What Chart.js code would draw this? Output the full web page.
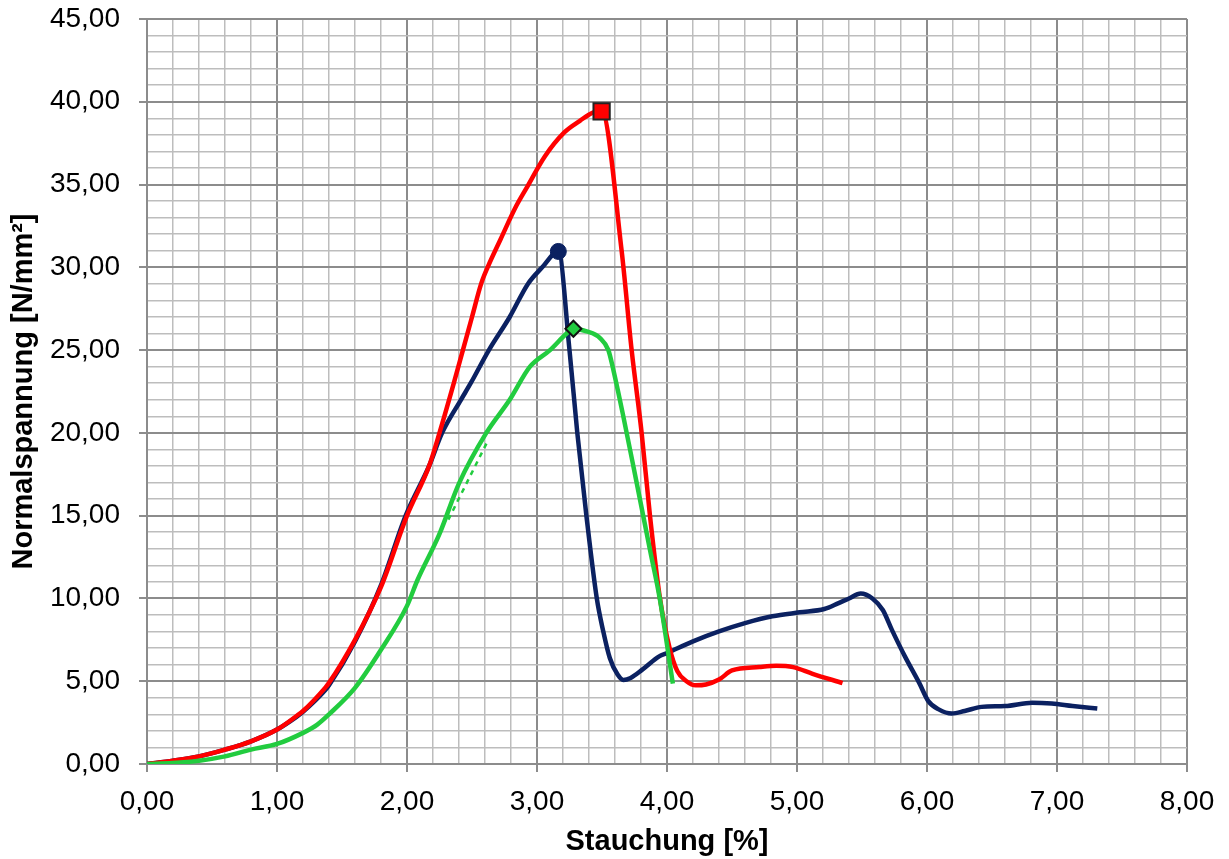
<!DOCTYPE html>
<html>
<head>
<meta charset="utf-8">
<script src="https://cdn.jsdelivr.net/npm/chart.js@4.4.1/dist/chart.umd.min.js"></script>
<style>
  html, body { margin: 0; padding: 0; background: #ffffff; }
  #wrap { width: 1229px; height: 859px; }
</style>
</head>
<body>
<div id="wrap"><canvas id="c" width="1229" height="859"></canvas></div>
<script>
// ---- Data ----
const xTitle = 'Stauchung [%]';
const yTitle = 'Normalspannung [N/mm²]';

const redX = [0, 0.2, 0.4, 0.6, 0.8, 1.0, 1.15, 1.2, 1.37, 1.4, 1.6, 1.8, 2.0, 2.17, 2.25, 2.36, 2.43, 2.5, 2.57, 2.62, 2.72, 2.84, 2.92, 3.06, 3.21, 3.33, 3.43, 3.497, 3.651, 3.728, 3.805, 3.869, 3.946, 4.02, 4.08, 4.15, 4.22, 4.3, 4.4, 4.5, 4.71, 4.84, 4.97, 5.12, 5.35];
const redY = [0, 0.2, 0.46, 0.87, 1.37, 2.08, 2.9, 3.2, 4.6, 4.9, 7.5, 10.7, 15.0, 18.0, 20.0, 23.0, 25.0, 27.0, 29.0, 30.0, 31.7, 33.7, 34.8, 36.7, 38.15, 38.85, 39.35, 39.42, 31.0, 25.0, 20.0, 15.0, 10.0, 7.0, 5.6, 5.0, 4.75, 4.8, 5.1, 5.65, 5.86, 5.93, 5.85, 5.45, 4.89];

const blueX = [0, 0.2, 0.4, 0.6, 0.8, 1.0, 1.15, 1.2, 1.37, 1.4, 1.6, 1.8, 1.99, 2.17, 2.27, 2.415, 2.49, 2.63, 2.79, 2.93, 3.04, 3.164, 3.25, 3.31, 3.38, 3.46, 3.51, 3.56, 3.62, 3.664, 3.72, 3.81, 3.94, 4.0, 4.2, 4.4, 4.6, 4.81, 5.02, 5.21, 5.32, 5.4, 5.49, 5.58, 5.66, 5.73, 5.83, 5.94, 6.01, 6.09, 6.19, 6.29, 6.42, 6.6, 6.81, 6.96, 7.12, 7.31];
const blueY = [0, 0.2, 0.46, 0.87, 1.37, 2.08, 2.85, 3.15, 4.45, 4.75, 7.4, 10.8, 15.0, 18.0, 20.0, 22.0, 23.0, 25.0, 27.0, 29.0, 30.0, 30.96, 25.0, 20.0, 15.0, 10.0, 8.0, 6.4, 5.4, 5.08, 5.2, 5.7, 6.5, 6.7, 7.41, 8.01, 8.51, 8.92, 9.16, 9.36, 9.72, 10.0, 10.3, 10.0, 9.3, 8.1, 6.5, 4.9, 3.8, 3.3, 3.05, 3.2, 3.45, 3.5, 3.7, 3.65, 3.5, 3.35];

const greenX = [0, 0.2, 0.4, 0.6, 0.8, 1.0, 1.2, 1.31, 1.4, 1.6, 1.8, 2.0, 2.08, 2.25, 2.4, 2.61, 2.79, 2.946, 3.1, 3.228, 3.28, 3.382, 3.485, 3.549, 3.587, 3.664, 3.767, 3.869, 3.946, 4.045];
const greenY = [0, 0.06, 0.2, 0.46, 0.87, 1.21, 1.88, 2.38, 3.0, 4.6, 6.9, 9.55, 11.1, 13.9, 16.95, 20.0, 22.0, 24.0, 25.0, 26.0, 26.29, 26.13, 25.73, 25.0, 23.82, 21.0, 16.97, 12.94, 9.92, 4.85];

const trendX = [2.318, 2.626];
const trendY = [14.76, 19.59];

const xMin = 0, xMax = 8, xStep = 0.2, xMajor = 1;
const yMin = 0, yMax = 45, yStep = 1, yMajor = 5;

// ---- Helpers ----
const pts = (xs, ys) => xs.map((x, i) => ({ x: x, y: ys[i] }));
const peakIndex = ys => ys.indexOf(Math.max(...ys));
const isMult = (v, m) => Math.abs(v / m - Math.round(v / m)) < 1e-6;
const fmt = v => v.toFixed(2).replace('.', ',');
const FONT = "'Liberation Sans', Arial, sans-serif";
const MAJOR = '#8c8c8c', MINOR = '#bdbdbd';

function peakRadius(ys, r) {
  const pi = peakIndex(ys);
  return ctx => (ctx.dataIndex === pi ? r : 0);
}

const RED = '#ff0000', BLUE = '#0b2161', GREEN = '#22cc3f';
const LW = 4.5;

new Chart(document.getElementById('c'), {
  type: 'line',
  data: {
    datasets: [
      {
        label: 'green', data: pts(greenX, greenY), borderColor: GREEN, backgroundColor: GREEN,
        borderWidth: LW, cubicInterpolationMode: 'monotone', fill: false,
        pointStyle: 'rectRot', pointRadius: peakRadius(greenY, 8), pointHoverRadius: 0,
        pointBackgroundColor: GREEN, pointBorderColor: '#111', pointBorderWidth: 2
      },
      {
        label: 'red', data: pts(redX, redY), borderColor: RED, backgroundColor: RED,
        borderWidth: LW, cubicInterpolationMode: 'monotone', fill: false,
        pointStyle: 'rect', pointRadius: peakRadius(redY, 11.5), pointHoverRadius: 0,
        pointBackgroundColor: RED, pointBorderColor: '#222', pointBorderWidth: 2
      },
      {
        label: 'blue', data: pts(blueX, blueY), borderColor: BLUE, backgroundColor: BLUE,
        borderWidth: LW, cubicInterpolationMode: 'monotone', fill: false,
        pointStyle: 'circle', pointRadius: peakRadius(blueY, 8), pointHoverRadius: 0,
        pointBackgroundColor: BLUE, pointBorderColor: BLUE, pointBorderWidth: 1
      },
      {
        label: 'trend', data: pts(trendX, trendY), borderColor: GREEN,
        borderWidth: 2.5, borderDash: [5, 5], pointRadius: 0, fill: false
      }
    ]
  },
  options: {
    responsive: false,
    animation: false,
    events: [],
    layout: { padding: { top: 19, right: 42, bottom: 0, left: 0 } },
    plugins: { legend: { display: false }, tooltip: { enabled: false } },
    scales: {
      x: {
        type: 'linear', min: xMin, max: xMax,
        afterFit: s => { s.height = 95; s.paddingLeft = 0; s.paddingRight = 0; },
        ticks: {
          stepSize: xStep, maxTicksLimit: 1000, autoSkip: false, maxRotation: 0, minRotation: 0,
          padding: 13, color: '#000', font: { family: FONT, size: 28 },
          callback: v => (isMult(v, xMajor) ? fmt(v) : '')
        },
        grid: {
          color: c => (c.tick && isMult(c.tick.value, xMajor) ? MAJOR : MINOR),
          lineWidth: c => (c.tick && isMult(c.tick.value, xMajor) ? 2 : 1.5),
          tickColor: c => (c.tick && isMult(c.tick.value, xMajor) ? MAJOR : 'rgba(0,0,0,0)'),
          tickLength: 8, tickWidth: 2
        },
        border: { color: MAJOR, width: 2 },
        title: {
          display: true, text: xTitle, color: '#000',
          font: { family: FONT, size: 29, weight: 'bold' }, padding: { top: 0, bottom: 0 }
        }
      },
      y: {
        type: 'linear', min: yMin, max: yMax,
        afterFit: s => { s.width = 147; s.paddingTop = 0; s.paddingBottom = 0; },
        ticks: {
          stepSize: yStep, maxTicksLimit: 1000, autoSkip: false,
          padding: 19, color: '#000', font: { family: FONT, size: 28 },
          callback: v => (isMult(v, yMajor) ? fmt(v) : '')
        },
        grid: {
          color: c => (c.tick && isMult(c.tick.value, yMajor) ? MAJOR : MINOR),
          lineWidth: c => (c.tick && isMult(c.tick.value, yMajor) ? 2 : 1.5),
          tickColor: c => (c.tick && isMult(c.tick.value, yMajor) ? MAJOR : 'rgba(0,0,0,0)'),
          tickLength: 8, tickWidth: 2
        },
        border: { color: MAJOR, width: 2 },
        title: {
          display: true, text: yTitle, color: '#000',
          font: { family: FONT, size: 29, weight: 'bold' }, padding: { top: 7, bottom: 0 }
        }
      }
    }
  }
});
</script>
</body>
</html>
